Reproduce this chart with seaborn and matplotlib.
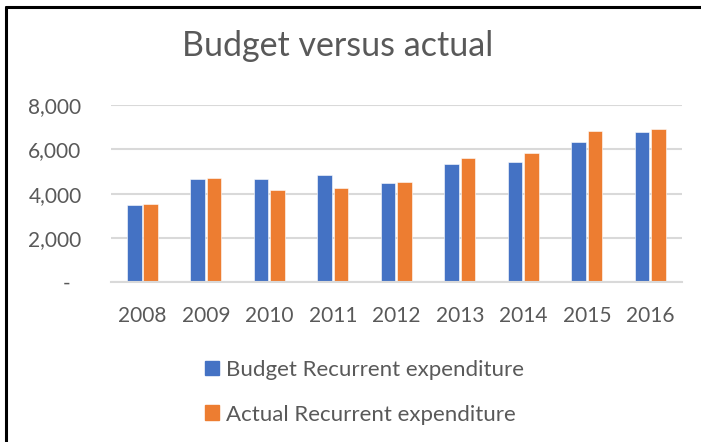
import matplotlib
matplotlib.use('Agg')
import matplotlib.pyplot as plt
import seaborn as sns
import pandas as pd
from matplotlib.lines import Line2D
from matplotlib.ticker import FuncFormatter

years = ['2008', '2009', '2010', '2011', '2012', '2013', '2014', '2015', '2016']
budget = [3470, 4650, 4640, 4820, 4480, 5330, 5420, 6320, 6770]
actual = [3530, 4710, 4160, 4250, 4520, 5590, 5810, 6800, 6910]
series = ['Budget Recurrent expenditure', 'Actual Recurrent expenditure']
colors = ['#4472C4', '#ED7D31']

df = pd.DataFrame({'Year': years, series[0]: budget, series[1]: actual})
df = df.melt(id_vars='Year', var_name='Series', value_name='Value')

sns.set_style('white')
plt.rcParams['font.family'] = ['Lato', 'DejaVu Sans']
text_color = '#595959'
grid_color = '#D9D9D9'

fig = plt.figure(figsize=(7.01, 4.42), dpi=100)
ax = fig.add_axes([0.158, 0.361, 0.815, 0.402])

sns.barplot(data=df, x='Year', y='Value', hue='Series', palette=colors,
            width=0.52, gap=0.12, ax=ax, legend=False, saturation=1,
            edgecolor='white', linewidth=0.4)

ax.set_ylim(0, 8000)
ax.set_yticks([0, 2000, 4000, 6000, 8000])
ax.yaxis.set_major_formatter(FuncFormatter(lambda v, p: '-  ' if v == 0 else f'{int(v):,}'))
ax.grid(axis='y', color=grid_color, linewidth=1.5)
ax.set_axisbelow(True)
for s in ['top', 'right', 'left']:
    ax.spines[s].set_visible(False)
ax.spines['bottom'].set_color(grid_color)
ax.spines['bottom'].set_linewidth(1.5)
ax.set_xlabel('')
ax.set_ylabel('')
ax.tick_params(axis='both', length=0, labelsize=15, colors=text_color)
ax.yaxis.set_tick_params(pad=21)
ax.xaxis.set_tick_params(pad=17)

fig.text(0.482, 0.896, 'Budget versus actual', ha='center', va='center',
         fontsize=24.5, color=text_color)

handles = [plt.Rectangle((0, 0), 1, 1, color=c) for c in colors]
fig.legend(handles, series, loc='upper left', bbox_to_anchor=(0.2924, 0.186),
           frameon=False, fontsize=16, labelcolor=text_color,
           handlelength=0.65, handleheight=0.65, handletextpad=0.3,
           labelspacing=1.12, borderaxespad=0, borderpad=0)

# frame edges visible in the screenshot
fig.add_artist(Line2D([0.008, 1.0], [0.985, 0.985], color='black', linewidth=2.2,
                      transform=fig.transFigure))
fig.add_artist(Line2D([0.008, 0.008], [0.0, 0.985], color='black', linewidth=2.2,
                      transform=fig.transFigure))

fig.savefig('out.png', dpi=100)
